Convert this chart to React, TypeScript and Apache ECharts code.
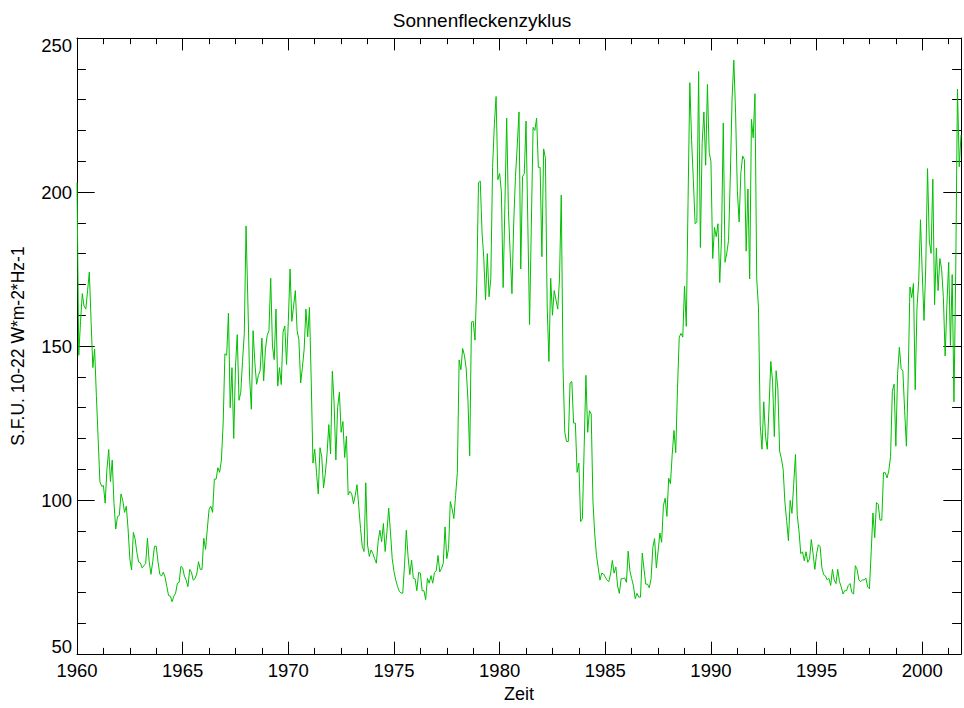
import React, { useEffect, useRef } from "react";
import * as echarts from "echarts";

// Monthly solar radio flux (10.7 cm), one value per month starting January 1960.
const START_YEAR = 1960;

const flux1960s = [
  203, 147, 158, 167, 163, 162, 168, 174, 158, 143, 149, 134,
  120, 106, 104.5, 104.7, 99, 110, 116.4, 106, 113, 99, 90.6, 94.7,
  95, 102, 99.8, 96, 98, 90.6, 81, 77.3, 89.5, 87.4, 83, 79.9,
  79.6, 78, 78.7, 79.4, 87.6, 80, 75.9, 80, 85, 85, 80, 76,
  75.3, 76.6, 75, 72, 69, 68.8, 67, 68.8, 69.8, 73, 73.3, 78.5,
  78, 75.3, 74, 71.9, 77.5, 76.6, 74, 74.5, 76, 80, 77.5, 77.5,
  87.6, 84, 90.6, 97, 98, 96, 106.8, 106.8, 110.5, 109, 113, 125,
  147.5, 147, 160.7, 130, 143, 120, 143.3, 153.7, 132.4, 135, 145, 154,
  189, 165, 140, 129.5, 155, 144.6, 137.6, 140.5, 142, 152.6, 138.7, 149,
  153.5, 155, 172, 150, 145.6, 162, 137, 143, 137.5, 154.5, 156.5, 144,
];

const flux1970s = [
  158, 175, 158, 163, 168, 155, 152, 138, 143, 149, 162, 153,
  162.5, 139, 112, 116.5, 109, 102, 117, 114, 104, 108.5, 115, 124.5,
  115, 141.8, 131.5, 113, 130, 135, 122, 125.5, 113.8, 120.8, 101.7, 102.8,
  102, 98.8, 101.5, 105, 98, 90.8, 85, 83.3, 105.6, 85.4, 81.7, 83.8,
  82.7, 81, 79.5, 86.5, 90.2, 86.5, 92.4, 83.3, 89.7, 97.4, 89.7, 81,
  76.8, 74.1, 72, 70.4, 69.8, 69.8, 79, 90.2, 81.7, 75.8, 80.5, 74.6,
  74.4, 70.6, 76.5, 76.3, 70.6, 70.6, 67.7, 74.6, 73, 75.5, 73, 76.5,
  77, 82, 76.7, 77.8, 79.5, 91.3, 81, 84.3, 99.5, 97.2, 94, 101.5,
  109, 145.5, 142.3, 149.2, 147, 142.8, 132.6, 114.4, 157.8, 158, 151.9, 170,
  203, 203.6, 187, 178.5, 165, 180, 166, 172, 208, 222, 231, 204,
];

const flux1980s = [
  206, 200, 169, 196, 224, 194, 180, 167, 190, 205, 215, 226,
  175, 205, 206, 223, 190, 157, 189, 221, 220, 224, 208, 208,
  179, 214, 211, 163, 145, 172, 160, 168, 165, 162, 172, 199,
  143, 122, 119, 119, 138, 138.5, 125, 125, 109, 112, 93, 94,
  117, 140.5, 122, 129, 128, 99.5, 89, 82, 78, 74, 76.3, 76,
  75, 74, 73.5, 76, 80.4, 76.3, 78.3, 72.1, 69.7, 74.5, 74.5, 74.7,
  73.3, 83.4, 76.9, 74.5, 72.1, 68, 69.7, 68.5, 68.5, 82.8, 77.5, 72.7,
  72.7, 71.5, 74.5, 84.6, 87.5, 78, 83.4, 89.3, 86.3, 98.2, 100.6, 94.7,
  107.1, 105.3, 114.8, 122.6, 115.4, 136.2, 152.9, 154.1, 152.9, 169.5, 156.4, 196.9,
  235.5, 217, 204, 189.7, 190.3, 239.1, 182, 215.8, 226, 208.7, 234.9, 212.9,
];

const flux1990s = [
  209.9, 178.4, 188.5, 185.5, 189.7, 170.6, 184.9, 222.4, 177.2, 180.2, 184.3, 205.2,
  230.2, 242.8, 225.4, 200.4, 190.3, 206.3, 211.7, 210.5, 180.8, 201, 171.8, 223.6,
  217.6, 231.9, 171.8, 162.3, 124.2, 116.5, 131.9, 120.6, 116.5, 130.2, 145, 138.5,
  120.6, 142, 136.2, 115.9, 113.5, 110, 99.3, 93.3, 86.8, 99.9, 95.7, 105.3,
  114.8, 95.1, 90, 82.6, 83.2, 80.3, 83.2, 79.8, 80.9, 87.2, 82.6, 77.5,
  82.6, 85.5, 84.9, 78.1, 75.8, 75.4, 74.1, 74.6, 72.3, 77.5, 74.1, 72.9,
  77.5, 73.5, 71.8, 69.5, 70.6, 70.6, 72.3, 72.9, 70, 69.5, 78.7, 77.5,
  74.1, 73.5, 74.1, 74.1, 74.6, 71.8, 71.2, 83.2, 95.8, 87.8, 99.2, 98.6,
  93.5, 93.5, 108.9, 108.9, 107.2, 109.5, 114.1, 135.3, 137.6, 117.5, 141, 149.6,
  142.7, 141.8, 129, 117.5, 139.3, 169.2, 165.7, 170.3, 135.8, 162.3, 171.4, 191,
];

const flux2000s = [
  173.7, 158.3, 176, 207.6, 184.1, 180.1, 204.2, 163.4, 181.8, 168, 178.4, 174.9,
  165.7, 146.8, 163.4, 177.2, 150.2, 173.2, 131.9, 173.7, 233.4, 208.2, 218.5,
];

const xTickYears = [1960, 1965, 1970, 1975, 1980, 1985, 1990, 1995, 2000];
const yTickValues = [50, 100, 150, 200, 250];

const TITLE = "Sonnenfleckenzyklus";
const X_NAME = "Zeit";
const Y_NAME = "S.F.U. 10-22 W*m-2*Hz-1";

const FONT = '"Liberation Sans", Arial, Helvetica, sans-serif';
const LINE_GREEN = "#00c000";
const TICK_FONT_SIZE = 18.5;

const allFlux = [...flux1960s, ...flux1970s, ...flux1980s, ...flux1990s, ...flux2000s];
const seriesData = allFlux.map((v, i) => [START_YEAR + i / 12, v]);
const X_MIN = START_YEAR;
const X_MAX = START_YEAR + (allFlux.length - 1) / 12;

const Y_MIN = yTickValues[0];
const Y_MAX = yTickValues[yTickValues.length - 1];
const Y_STEP = yTickValues[1] - yTickValues[0];
const X_STEP = xTickYears[1] - xTickYears[0];

const labelText = { color: "#000", fontSize: TICK_FONT_SIZE, fontFamily: FONT };

function xAxisBase(position: "top" | "bottom", interval: number, tickLen: number, withLine: boolean) {
  return {
    type: "value" as const,
    position,
    min: X_MIN,
    max: X_MAX,
    interval,
    axisLine: { show: withLine, onZero: false, lineStyle: { color: "#000", width: 1 } },
    axisTick: { show: true, inside: true, length: tickLen, lineStyle: { color: "#000", width: 1 } },
    axisLabel: { show: false },
    splitLine: { show: false },
  };
}

function yAxisBase(position: "left" | "right") {
  return {
    type: "value" as const,
    position,
    min: Y_MIN,
    max: Y_MAX,
    interval: Y_STEP,
    axisLine: { show: true, onZero: false, lineStyle: { color: "#000", width: 1 } },
    axisTick: { show: true, inside: true, length: 17.7, lineStyle: { color: "#000", width: 1 } },
    minorTick: { show: true, splitNumber: 5, length: 8.9, lineStyle: { color: "#000", width: 1 } },
    axisLabel: { show: false },
    splitLine: { show: false },
    minorSplitLine: { show: false },
  };
}

function Chart() {
  const ref = useRef<HTMLDivElement | null>(null);

  useEffect(() => {
    if (!ref.current) return;
    const chart = echarts.init(ref.current, null, { renderer: "svg" });

    const bottomMajor = {
      ...xAxisBase("bottom", X_STEP, 12.4, true),
      axisLabel: {
        show: true,
        ...labelText,
        margin: 7,
        formatter: (v: number) => (xTickYears.includes(v) ? String(v) : ""),
      },
      name: X_NAME,
      nameLocation: "middle" as const,
      nameGap: 28,
      nameTextStyle: { color: "#000", fontSize: 18, fontFamily: FONT },
    };

    // The end labels sit just inside the plot box: the top one hangs below
    // its tick and the bottom one rests above it.
    const leftAxis = {
      ...yAxisBase("left"),
      axisLabel: {
        show: true,
        ...labelText,
        margin: 5,
        formatter: (v: number) => {
          if (!yTickValues.includes(v)) return "";
          if (v === Y_MAX) return `{hi|${v}}`;
          if (v === Y_MIN) return `{lo|${v}}`;
          return String(v);
        },
        rich: {
          hi: { ...labelText, padding: [14, 0, 0, 0] },
          lo: { ...labelText, padding: [0, 0, 16, 0] },
        },
      },
      name: Y_NAME,
      nameLocation: "middle" as const,
      nameGap: 50,
      nameTextStyle: { color: "#000", fontSize: 17.5, fontFamily: FONT },
    };

    chart.setOption({
      animation: false,
      backgroundColor: "#fff",
      title: {
        text: TITLE,
        left: "center",
        top: 6,
        textStyle: { color: "#000", fontSize: 19, fontWeight: "normal", fontFamily: FONT },
      },
      grid: { left: 77, right: 0, top: 38, bottom: 48, containLabel: false },
      xAxis: [
        bottomMajor,
        xAxisBase("bottom", X_STEP / 4, 6.2, false),
        xAxisBase("top", X_STEP, 12.4, true),
        xAxisBase("top", X_STEP / 4, 6.2, false),
      ],
      yAxis: [leftAxis, yAxisBase("right")],
      series: [
        {
          type: "line",
          xAxisIndex: 0,
          yAxisIndex: 0,
          data: seriesData,
          showSymbol: false,
          symbol: "none",
          smooth: false,
          lineStyle: { color: LINE_GREEN, width: 1 },
          clip: true,
        },
      ],
    });

    return () => chart.dispose();
  }, []);

  return <div ref={ref} style={{ width: 964, height: 708 }} />;
}

export default function App() {
  return (
    <div style={{ position: "fixed", left: 0, top: 0, width: 964, height: 708, background: "#fff" }}>
      <Chart />
    </div>
  );
}
